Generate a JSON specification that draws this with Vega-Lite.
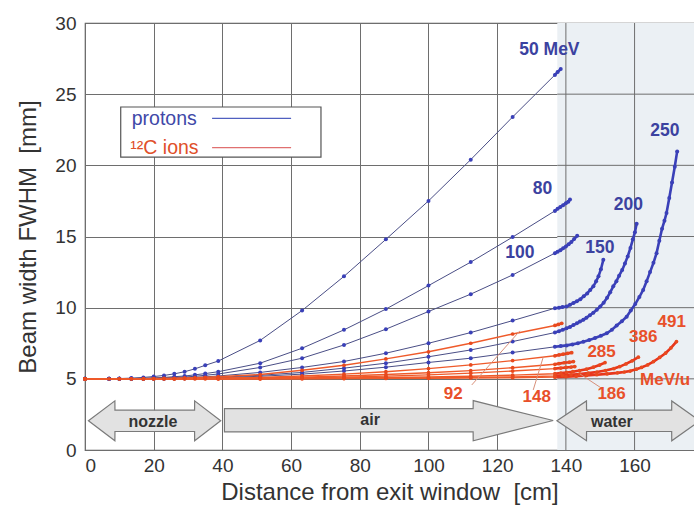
{
  "$schema": "https://vega.github.io/schema/vega-lite/v6.json",
  "width": 609,
  "height": 427,
  "autosize": "none",
  "padding": {"left": 85, "top": 23, "right": 0, "bottom": 66},
  "background": "white",
  "config": {
    "font": "Liberation Sans",
    "view": {"stroke": "#5a5a5a", "strokeWidth": 1.2},
    "axis": {
      "grid": true, "gridColor": "#6e6e6e", "gridWidth": 1, "gridOpacity": 1,
      "domain": false, "ticks": false,
      "labelFont": "Liberation Sans", "labelFontSize": 19, "labelColor": "#333333",
      "titleFont": "Liberation Sans", "titleFontSize": 24, "titleColor": "#333333", "titleFontWeight": "normal"
    }
  },
  "datasets": {
    "protons": [
      {"s":"p50","x":0,"y":5},{"s":"p50","x":7,"y":5},{"s":"p50","x":10,"y":5.02},{"s":"p50","x":13.5,"y":5.05},{"s":"p50","x":17,"y":5.1},{"s":"p50","x":20,"y":5.16},{"s":"p50","x":23,"y":5.24},{"s":"p50","x":26,"y":5.35},{"s":"p50","x":29,"y":5.5},{"s":"p50","x":32,"y":5.7},{"s":"p50","x":35,"y":5.95},{"s":"p50","x":38.8,"y":6.25},{"s":"p50","x":51,"y":7.7},{"s":"p50","x":63.2,"y":9.8},{"s":"p50","x":75.4,"y":12.2},{"s":"p50","x":87.6,"y":14.8},{"s":"p50","x":100,"y":17.5},{"s":"p50","x":112.3,"y":20.4},{"s":"p50","x":124.5,"y":23.4},{"s":"p50","x":136.8,"y":26.35},{"s":"p50","x":137.6,"y":26.55},{"s":"p50","x":138.5,"y":26.77},

      {"s":"p80","x":0,"y":5},{"s":"p80","x":7,"y":5},{"s":"p80","x":10,"y":5.01},{"s":"p80","x":13.5,"y":5.02},{"s":"p80","x":17,"y":5.04},{"s":"p80","x":20,"y":5.07},{"s":"p80","x":23,"y":5.1},{"s":"p80","x":26,"y":5.15},{"s":"p80","x":29,"y":5.2},{"s":"p80","x":32,"y":5.28},{"s":"p80","x":35,"y":5.37},{"s":"p80","x":38.8,"y":5.5},{"s":"p80","x":51,"y":6.1},{"s":"p80","x":63.2,"y":7.15},{"s":"p80","x":75.4,"y":8.44},{"s":"p80","x":87.6,"y":9.9},{"s":"p80","x":100,"y":11.55},{"s":"p80","x":112.3,"y":13.2},{"s":"p80","x":124.5,"y":14.96},{"s":"p80","x":136.8,"y":16.8},{"s":"p80","x":137.6,"y":16.95},{"s":"p80","x":138.4,"y":17.08},{"s":"p80","x":139.2,"y":17.2},{"s":"p80","x":140,"y":17.33},{"s":"p80","x":140.7,"y":17.45},{"s":"p80","x":141.2,"y":17.6},

      {"s":"p100","x":0,"y":5},{"s":"p100","x":7,"y":5},{"s":"p100","x":10,"y":5},{"s":"p100","x":13.5,"y":5.01},{"s":"p100","x":17,"y":5.02},{"s":"p100","x":20,"y":5.04},{"s":"p100","x":23,"y":5.06},{"s":"p100","x":26,"y":5.09},{"s":"p100","x":29,"y":5.13},{"s":"p100","x":32,"y":5.18},{"s":"p100","x":35,"y":5.25},{"s":"p100","x":38.8,"y":5.34},{"s":"p100","x":51,"y":5.8},{"s":"p100","x":63.2,"y":6.45},{"s":"p100","x":75.4,"y":7.38},{"s":"p100","x":87.6,"y":8.49},{"s":"p100","x":100,"y":9.73},{"s":"p100","x":112.3,"y":10.95},{"s":"p100","x":124.5,"y":12.3},{"s":"p100","x":136.8,"y":13.83},{"s":"p100","x":137.6,"y":13.93},{"s":"p100","x":138.4,"y":14.04},{"s":"p100","x":139.2,"y":14.17},{"s":"p100","x":140,"y":14.3},{"s":"p100","x":140.8,"y":14.45},{"s":"p100","x":141.6,"y":14.62},{"s":"p100","x":142.4,"y":14.82},{"s":"p100","x":143.3,"y":15.05},

      {"s":"p150","x":0,"y":5},{"s":"p150","x":7,"y":5},{"s":"p150","x":10,"y":5},{"s":"p150","x":13.5,"y":5},{"s":"p150","x":17,"y":5.01},{"s":"p150","x":20,"y":5.02},{"s":"p150","x":23,"y":5.03},{"s":"p150","x":26,"y":5.05},{"s":"p150","x":29,"y":5.07},{"s":"p150","x":32,"y":5.1},{"s":"p150","x":35,"y":5.14},{"s":"p150","x":38.8,"y":5.2},{"s":"p150","x":51,"y":5.45},{"s":"p150","x":63.2,"y":5.8},{"s":"p150","x":75.4,"y":6.22},{"s":"p150","x":87.6,"y":6.8},{"s":"p150","x":100,"y":7.5},{"s":"p150","x":112.3,"y":8.25},{"s":"p150","x":124.5,"y":9.09},{"s":"p150","x":136.8,"y":9.96},{"s":"p150","x":138,"y":10.0},{"s":"p150","x":139,"y":10.04},{"s":"p150","x":140.2,"y":10.08},{"s":"p150","x":141.2,"y":10.2},{"s":"p150","x":142.2,"y":10.33},{"s":"p150","x":143.2,"y":10.45},{"s":"p150","x":144.2,"y":10.6},{"s":"p150","x":145.2,"y":10.8},{"s":"p150","x":146.2,"y":11.0},{"s":"p150","x":147.1,"y":11.25},{"s":"p150","x":148,"y":11.5},{"s":"p150","x":148.8,"y":11.85},{"s":"p150","x":149.5,"y":12.2},{"s":"p150","x":150.2,"y":12.7},{"s":"p150","x":150.9,"y":13.36},

      {"s":"p200","x":0,"y":5},{"s":"p200","x":7,"y":5},{"s":"p200","x":10,"y":5},{"s":"p200","x":13.5,"y":5},{"s":"p200","x":17,"y":5},{"s":"p200","x":20,"y":5.01},{"s":"p200","x":23,"y":5.02},{"s":"p200","x":26,"y":5.03},{"s":"p200","x":29,"y":5.04},{"s":"p200","x":32,"y":5.06},{"s":"p200","x":35,"y":5.08},{"s":"p200","x":38.8,"y":5.11},{"s":"p200","x":51,"y":5.25},{"s":"p200","x":63.2,"y":5.45},{"s":"p200","x":75.4,"y":5.75},{"s":"p200","x":87.6,"y":6.1},{"s":"p200","x":100,"y":6.55},{"s":"p200","x":112.3,"y":7.03},{"s":"p200","x":124.5,"y":7.62},{"s":"p200","x":136.8,"y":8.25},{"s":"p200","x":138,"y":8.35},{"s":"p200","x":139.1,"y":8.45},{"s":"p200","x":140.2,"y":8.55},{"s":"p200","x":141.2,"y":8.65},{"s":"p200","x":142.2,"y":8.78},{"s":"p200","x":143.2,"y":8.9},{"s":"p200","x":144.1,"y":9.02},{"s":"p200","x":145.1,"y":9.15},{"s":"p200","x":146,"y":9.3},{"s":"p200","x":147,"y":9.47},{"s":"p200","x":148,"y":9.65},{"s":"p200","x":149,"y":9.85},{"s":"p200","x":150,"y":10.08},{"s":"p200","x":151,"y":10.35},{"s":"p200","x":152,"y":10.7},{"s":"p200","x":152.9,"y":11.08},{"s":"p200","x":153.8,"y":11.5},{"s":"p200","x":154.7,"y":11.85},{"s":"p200","x":155.5,"y":12.25},{"s":"p200","x":156.4,"y":12.65},{"s":"p200","x":157.2,"y":13.1},{"s":"p200","x":158,"y":13.6},{"s":"p200","x":158.8,"y":14.2},{"s":"p200","x":159.5,"y":14.8},{"s":"p200","x":160.1,"y":15.3},{"s":"p200","x":160.6,"y":15.9},

      {"s":"p250","x":0,"y":5},{"s":"p250","x":7,"y":5},{"s":"p250","x":10,"y":5},{"s":"p250","x":13.5,"y":5},{"s":"p250","x":17,"y":5},{"s":"p250","x":20,"y":5},{"s":"p250","x":23,"y":5.01},{"s":"p250","x":26,"y":5.02},{"s":"p250","x":29,"y":5.03},{"s":"p250","x":32,"y":5.04},{"s":"p250","x":35,"y":5.05},{"s":"p250","x":38.8,"y":5.07},{"s":"p250","x":51,"y":5.18},{"s":"p250","x":63.2,"y":5.33},{"s":"p250","x":75.4,"y":5.55},{"s":"p250","x":87.6,"y":5.82},{"s":"p250","x":100,"y":6.15},{"s":"p250","x":112.3,"y":6.45},{"s":"p250","x":124.5,"y":6.85},{"s":"p250","x":136.8,"y":7.25},{"s":"p250","x":138.5,"y":7.3},{"s":"p250","x":140.2,"y":7.35},{"s":"p250","x":141.9,"y":7.42},{"s":"p250","x":143.5,"y":7.5},{"s":"p250","x":145.1,"y":7.6},{"s":"p250","x":146.8,"y":7.72},{"s":"p250","x":148.5,"y":7.87},{"s":"p250","x":150.2,"y":8.03},{"s":"p250","x":151.9,"y":8.2},{"s":"p250","x":153.4,"y":8.45},{"s":"p250","x":154.8,"y":8.75},{"s":"p250","x":156.3,"y":9.05},{"s":"p250","x":157.7,"y":9.37},{"s":"p250","x":158.9,"y":9.8},{"s":"p250","x":160.2,"y":10.25},{"s":"p250","x":161.4,"y":10.75},{"s":"p250","x":162.5,"y":11.25},{"s":"p250","x":163.5,"y":11.85},{"s":"p250","x":164.5,"y":12.5},{"s":"p250","x":165.5,"y":13.15},{"s":"p250","x":166.4,"y":13.83},{"s":"p250","x":167.2,"y":14.7},{"s":"p250","x":168,"y":15.55},{"s":"p250","x":168.7,"y":16.1},{"s":"p250","x":169.3,"y":16.65},{"s":"p250","x":170.1,"y":17.7},{"s":"p250","x":170.9,"y":18.8},{"s":"p250","x":171.7,"y":19.9},{"s":"p250","x":172.4,"y":20.98}
    ],
    "carbon": [
      {"s":"c1","x":0,"y":5},{"s":"c1","x":7,"y":5},{"s":"c1","x":10,"y":5},{"s":"c1","x":13.5,"y":5},{"s":"c1","x":17,"y":5.01},{"s":"c1","x":20,"y":5.02},{"s":"c1","x":23,"y":5.03},{"s":"c1","x":26,"y":5.04},{"s":"c1","x":29,"y":5.06},{"s":"c1","x":32,"y":5.08},{"s":"c1","x":35,"y":5.11},{"s":"c1","x":38.8,"y":5.15},{"s":"c1","x":51,"y":5.3},{"s":"c1","x":63.2,"y":5.6},{"s":"c1","x":75.4,"y":5.95},{"s":"c1","x":87.6,"y":6.4},{"s":"c1","x":100,"y":6.9},{"s":"c1","x":112.3,"y":7.5},{"s":"c1","x":124.5,"y":8.15},{"s":"c1","x":136.8,"y":8.75},{"s":"c1","x":137.8,"y":8.82},{"s":"c1","x":138.8,"y":8.9},

      {"s":"c2","x":0,"y":5},{"s":"c2","x":10,"y":5},{"s":"c2","x":17,"y":5},{"s":"c2","x":23,"y":5.01},{"s":"c2","x":29,"y":5.02},{"s":"c2","x":35,"y":5.04},{"s":"c2","x":38.8,"y":5.05},{"s":"c2","x":51,"y":5.1},{"s":"c2","x":63.2,"y":5.2},{"s":"c2","x":75.4,"y":5.33},{"s":"c2","x":87.6,"y":5.5},{"s":"c2","x":100,"y":5.72},{"s":"c2","x":112.3,"y":5.98},{"s":"c2","x":124.5,"y":6.28},{"s":"c2","x":136.8,"y":6.62},{"s":"c2","x":138,"y":6.68},{"s":"c2","x":139.2,"y":6.73},{"s":"c2","x":140.5,"y":6.79},{"s":"c2","x":141.7,"y":6.84},

      {"s":"c3","x":0,"y":5},{"s":"c3","x":13.5,"y":5},{"s":"c3","x":20,"y":5},{"s":"c3","x":26,"y":5.01},{"s":"c3","x":32,"y":5.02},{"s":"c3","x":38.8,"y":5.03},{"s":"c3","x":51,"y":5.07},{"s":"c3","x":63.2,"y":5.12},{"s":"c3","x":75.4,"y":5.2},{"s":"c3","x":87.6,"y":5.3},{"s":"c3","x":100,"y":5.43},{"s":"c3","x":112.3,"y":5.58},{"s":"c3","x":124.5,"y":5.78},{"s":"c3","x":136.8,"y":6.02},{"s":"c3","x":138,"y":6.07},{"s":"c3","x":139.5,"y":6.13},{"s":"c3","x":141,"y":6.17},{"s":"c3","x":142.2,"y":6.21},

      {"s":"c4","x":0,"y":5},{"s":"c4","x":17,"y":5},{"s":"c4","x":26,"y":5},{"s":"c4","x":32,"y":5.01},{"s":"c4","x":38.8,"y":5.02},{"s":"c4","x":51,"y":5.04},{"s":"c4","x":63.2,"y":5.07},{"s":"c4","x":75.4,"y":5.12},{"s":"c4","x":87.6,"y":5.19},{"s":"c4","x":100,"y":5.28},{"s":"c4","x":112.3,"y":5.4},{"s":"c4","x":124.5,"y":5.55},{"s":"c4","x":136.8,"y":5.72},{"s":"c4","x":138.5,"y":5.76},{"s":"c4","x":140,"y":5.8},{"s":"c4","x":141.5,"y":5.83},{"s":"c4","x":142.6,"y":5.86},

      {"s":"c285","x":0,"y":5},{"s":"c285","x":20,"y":5},{"s":"c285","x":29,"y":5},{"s":"c285","x":38.8,"y":5.01},{"s":"c285","x":51,"y":5.02},{"s":"c285","x":63.2,"y":5.04},{"s":"c285","x":75.4,"y":5.06},{"s":"c285","x":87.6,"y":5.09},{"s":"c285","x":100,"y":5.13},{"s":"c285","x":112.3,"y":5.18},{"s":"c285","x":124.5,"y":5.26},{"s":"c285","x":136.8,"y":5.36},{"s":"c285","x":138.5,"y":5.4},{"s":"c285","x":140.2,"y":5.45},{"s":"c285","x":142,"y":5.5},{"s":"c285","x":144,"y":5.58},{"s":"c285","x":146,"y":5.68},{"s":"c285","x":148,"y":5.82},{"s":"c285","x":149.8,"y":5.97},{"s":"c285","x":151.4,"y":6.14},

      {"s":"c386","x":0,"y":5},{"s":"c386","x":23,"y":5},{"s":"c386","x":35,"y":5},{"s":"c386","x":51,"y":5.01},{"s":"c386","x":63.2,"y":5.02},{"s":"c386","x":75.4,"y":5.03},{"s":"c386","x":87.6,"y":5.05},{"s":"c386","x":100,"y":5.07},{"s":"c386","x":112.3,"y":5.1},{"s":"c386","x":124.5,"y":5.14},{"s":"c386","x":136.8,"y":5.2},{"s":"c386","x":139,"y":5.23},{"s":"c386","x":141.5,"y":5.28},{"s":"c386","x":144,"y":5.33},{"s":"c386","x":146.5,"y":5.4},{"s":"c386","x":149,"y":5.48},{"s":"c386","x":151.5,"y":5.58},{"s":"c386","x":154,"y":5.72},{"s":"c386","x":155.7,"y":5.86},{"s":"c386","x":157.5,"y":6.05},{"s":"c386","x":159.3,"y":6.27},{"s":"c386","x":161.1,"y":6.52},

      {"s":"c491","x":0,"y":5},{"s":"c491","x":26,"y":5},{"s":"c491","x":38.8,"y":5},{"s":"c491","x":51,"y":5},{"s":"c491","x":63.2,"y":5.01},{"s":"c491","x":75.4,"y":5.02},{"s":"c491","x":87.6,"y":5.03},{"s":"c491","x":100,"y":5.04},{"s":"c491","x":112.3,"y":5.06},{"s":"c491","x":124.5,"y":5.08},{"s":"c491","x":136.8,"y":5.12},{"s":"c491","x":140,"y":5.15},{"s":"c491","x":143,"y":5.19},{"s":"c491","x":146,"y":5.24},{"s":"c491","x":149,"y":5.29},{"s":"c491","x":152,"y":5.35},{"s":"c491","x":155,"y":5.42},{"s":"c491","x":157,"y":5.48},{"s":"c491","x":158.7,"y":5.55},{"s":"c491","x":160.5,"y":5.68},{"s":"c491","x":162,"y":5.8},{"s":"c491","x":163.8,"y":5.98},{"s":"c491","x":165.5,"y":6.21},{"s":"c491","x":167.3,"y":6.5},{"s":"c491","x":169,"y":6.8},{"s":"c491","x":170.6,"y":7.18},{"s":"c491","x":172.2,"y":7.62}
    ],
    "waterGrid": [
      {"x":140,"x2":140,"y":0,"y2":30},{"x":160,"x2":160,"y":0,"y2":30},
      {"x":137.5,"x2":177.3,"y":5,"y2":5},{"x":137.5,"x2":177.3,"y":10,"y2":10},{"x":137.5,"x2":177.3,"y":15,"y2":15},{"x":137.5,"x2":177.3,"y":20,"y2":20},{"x":137.5,"x2":177.3,"y":25,"y2":25}
    ],
    "arrows": [
      {"a":"nozzle","x":1,"y":2.05,"y2":2.05},{"a":"nozzle","x":8.7,"y":0.65,"y2":3.45},{"a":"nozzle","x":8.72,"y":1.3,"y2":2.8},{"a":"nozzle","x":31.9,"y":1.3,"y2":2.8},{"a":"nozzle","x":31.92,"y":0.65,"y2":3.45},{"a":"nozzle","x":39.5,"y":2.05,"y2":2.05},
      {"a":"air","x":40.6,"y":1.27,"y2":2.9},{"a":"air","x":113,"y":1.27,"y2":2.9},{"a":"air","x":113.02,"y":0.65,"y2":3.47},{"a":"air","x":136.3,"y":2.07,"y2":2.07},
      {"a":"water","x":137.4,"y":2.05,"y2":2.05},{"a":"water","x":146,"y":0.65,"y2":3.45},{"a":"water","x":146.02,"y":1.3,"y2":2.8},{"a":"water","x":170.8,"y":1.3,"y2":2.8},{"a":"water","x":170.82,"y":0.65,"y2":3.45},{"a":"water","x":179,"y":2.05,"y2":2.05}
    ],
    "arrowText": [
      {"t":"nozzle","x":19.8,"y":1.97},{"t":"air","x":83,"y":2.1},{"t":"water","x":153.4,"y":1.97}
    ],
    "pLabels": [
      {"t":"50 MeV","x":135.2,"y":28.1},{"t":"80","x":133.2,"y":18.35},{"t":"100","x":126.6,"y":13.85},{"t":"150","x":149.9,"y":14.2},{"t":"200","x":158.2,"y":17.2},{"t":"250","x":168.8,"y":22.4}
    ],
    "cLabels": [
      {"t":"92","x":107.2,"y":3.94},{"t":"148","x":131.5,"y":3.75},{"t":"186","x":153.3,"y":3.94},{"t":"285","x":150.4,"y":6.91},{"t":"386","x":162.5,"y":7.92},{"t":"491","x":170.8,"y":9.02},{"t":"MeV/u","x":168.9,"y":4.92}
    ],
    "leaders": [
      {"x":112.6,"y":4.57,"x2":126.6,"y2":8.37},{"x":130.5,"y":4.22,"x2":133.4,"y2":6.52},{"x":144.1,"y":5.34,"x2":150.4,"y2":4.34}
    ]
  },
  "layer": [
    {
      "data": {"values": [{"x": 137.5, "x2": 177.3, "y": 0, "y2": 30}]},
      "mark": {"type": "rect", "fill": "#ebf0f4", "clip": true},
      "encoding": {
        "x": {"field": "x", "type": "quantitative", "scale": {"domain": [0, 177.3], "nice": false, "zero": false},
              "axis": {"values": [0,20,40,60,80,100,120,140,160], "labelPadding": 6, "titlePadding": 5, "title": "Distance from exit window\u00a0\u00a0[cm]"}},
        "x2": {"field": "x2"},
        "y": {"field": "y", "type": "quantitative", "scale": {"domain": [0, 30], "nice": false},
              "axis": {"values": [0,5,10,15,20,25,30], "labelPadding": 9, "titlePadding": 14, "title": "Beam width FWHM\u00a0\u00a0[mm]"}},
        "y2": {"field": "y2"}
      }
    },
    {
      "data": {"name": "waterGrid"},
      "mark": {"type": "rule", "color": "#6e6e6e", "strokeWidth": 1, "clip": true},
      "encoding": {
        "x": {"field": "x", "type": "quantitative"},
        "x2": {"field": "x2"},
        "y": {"field": "y", "type": "quantitative"},
        "y2": {"field": "y2"}
      }
    },
    {
      "data": {"name": "arrows"},
      "mark": {"type": "area", "fill": "#e2e2e2", "stroke": "#7a7a7a", "strokeWidth": 1.2, "clip": true},
      "encoding": {
        "x": {"field": "x", "type": "quantitative"},
        "y": {"field": "y", "type": "quantitative"},
        "y2": {"field": "y2"},
        "detail": {"field": "a"}
      }
    },
    {
      "data": {"name": "arrowText"},
      "mark": {"type": "text", "fontWeight": "bold", "fontSize": 16, "color": "#333333", "font": "Liberation Sans"},
      "encoding": {
        "x": {"field": "x", "type": "quantitative"},
        "y": {"field": "y", "type": "quantitative"},
        "text": {"field": "t"}
      }
    },
    {
      "data": {"name": "protons"},
      "mark": {"type": "line", "color": "#4a4e86", "strokeWidth": 1},
      "encoding": {
        "x": {"field": "x", "type": "quantitative"},
        "y": {"field": "y", "type": "quantitative"},
        "detail": {"field": "s"}
      }
    },
    {
      "data": {"name": "protons"},
      "transform": [{"filter": "datum.x >= 136.8"}],
      "mark": {"type": "line", "color": "#3a40b8", "strokeWidth": 2.6},
      "encoding": {
        "x": {"field": "x", "type": "quantitative"},
        "y": {"field": "y", "type": "quantitative"},
        "detail": {"field": "s"}
      }
    },
    {
      "data": {"name": "protons"},
      "mark": {"type": "point", "filled": true, "size": 16, "color": "#3a40b8", "opacity": 1},
      "encoding": {
        "x": {"field": "x", "type": "quantitative"},
        "y": {"field": "y", "type": "quantitative"}
      }
    },
    {
      "data": {"name": "carbon"},
      "mark": {"type": "line", "color": "#ef5a2a", "strokeWidth": 1.4},
      "encoding": {
        "x": {"field": "x", "type": "quantitative"},
        "y": {"field": "y", "type": "quantitative"},
        "detail": {"field": "s"}
      }
    },
    {
      "data": {"name": "carbon"},
      "transform": [{"filter": "datum.x >= 136.8"}],
      "mark": {"type": "line", "color": "#e8361c", "strokeWidth": 2.6},
      "encoding": {
        "x": {"field": "x", "type": "quantitative"},
        "y": {"field": "y", "type": "quantitative"},
        "detail": {"field": "s"}
      }
    },
    {
      "data": {"name": "carbon"},
      "mark": {"type": "point", "filled": true, "size": 14, "color": "#e84a1e", "opacity": 1},
      "encoding": {
        "x": {"field": "x", "type": "quantitative"},
        "y": {"field": "y", "type": "quantitative"}
      }
    },
    {
      "data": {"name": "leaders"},
      "mark": {"type": "rule", "color": "#d8907a", "strokeWidth": 1},
      "encoding": {
        "x": {"field": "x", "type": "quantitative"},
        "y": {"field": "y", "type": "quantitative"},
        "x2": {"field": "x2"},
        "y2": {"field": "y2"}
      }
    },
    {
      "data": {"name": "pLabels"},
      "mark": {"type": "text", "fontWeight": "bold", "fontSize": 17.5, "color": "#3b42a0", "font": "Liberation Sans"},
      "encoding": {
        "x": {"field": "x", "type": "quantitative"},
        "y": {"field": "y", "type": "quantitative"},
        "text": {"field": "t"}
      }
    },
    {
      "data": {"name": "cLabels"},
      "mark": {"type": "text", "fontWeight": "bold", "fontSize": 17, "color": "#e8502a", "font": "Liberation Sans"},
      "encoding": {
        "x": {"field": "x", "type": "quantitative"},
        "y": {"field": "y", "type": "quantitative"},
        "text": {"field": "t"}
      }
    },
    {
      "data": {"values": [{"x": 10.4, "x2": 68.7, "y": 20.58, "y2": 24.1}]},
      "mark": {"type": "rect", "fill": "white", "stroke": "#555555", "strokeWidth": 1.2},
      "encoding": {
        "x": {"field": "x", "type": "quantitative"},
        "x2": {"field": "x2"},
        "y": {"field": "y", "type": "quantitative"},
        "y2": {"field": "y2"}
      }
    },
    {
      "data": {"values": [{"x": 37, "x2": 60, "y": 23.3}]},
      "mark": {"type": "rule", "color": "#5060c0", "strokeWidth": 1.3},
      "encoding": {
        "x": {"field": "x", "type": "quantitative"},
        "x2": {"field": "x2"},
        "y": {"field": "y", "type": "quantitative"}
      }
    },
    {
      "data": {"values": [{"x": 37, "x2": 60, "y": 21.24}]},
      "mark": {"type": "rule", "color": "#e07070", "strokeWidth": 1.3},
      "encoding": {
        "x": {"field": "x", "type": "quantitative"},
        "x2": {"field": "x2"},
        "y": {"field": "y", "type": "quantitative"}
      }
    },
    {
      "data": {"values": [{"t": "protons", "x": 13.6, "y": 23.25}]},
      "mark": {"type": "text", "align": "left", "baseline": "middle", "fontSize": 19.5, "color": "#4048a8", "font": "Liberation Sans"},
      "encoding": {
        "x": {"field": "x", "type": "quantitative"},
        "y": {"field": "y", "type": "quantitative"},
        "text": {"field": "t"}
      }
    },
    {
      "data": {"values": [{"t": "¹²C ions", "x": 13.2, "y": 21.2}]},
      "mark": {"type": "text", "align": "left", "baseline": "middle", "fontSize": 19.5, "color": "#e0502a", "font": "Liberation Sans"},
      "encoding": {
        "x": {"field": "x", "type": "quantitative"},
        "y": {"field": "y", "type": "quantitative"},
        "text": {"field": "t"}
      }
    }
  ]
}
